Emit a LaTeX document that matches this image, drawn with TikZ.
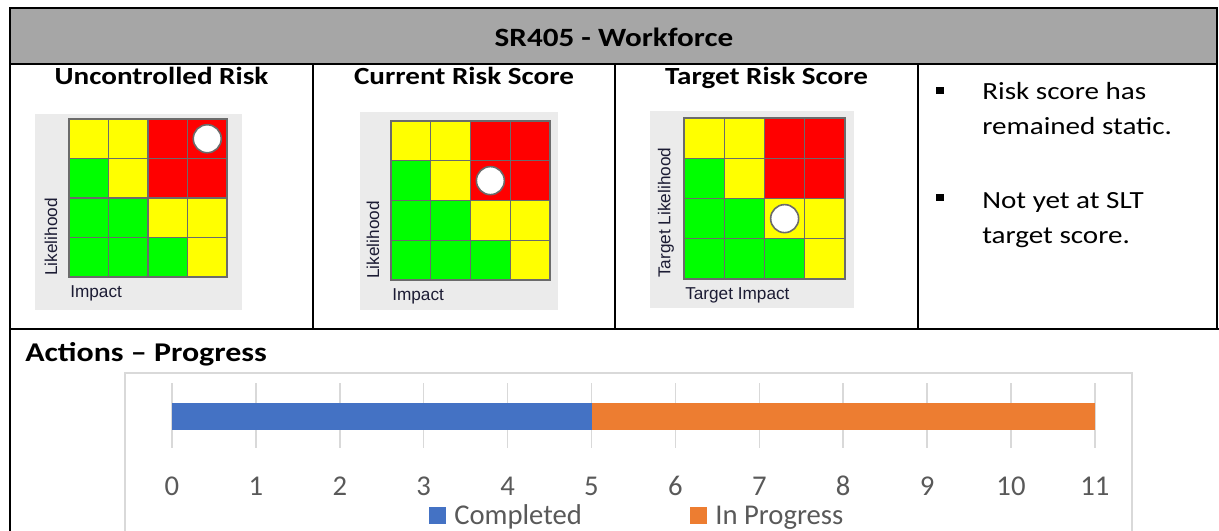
\documentclass[tikz,border=0pt]{standalone}
\usepackage{fontspec}
\setmainfont{Carlito}
\newfontfamily\axisfont{Liberation Sans}
\usetikzlibrary{calc}

\definecolor{hdrgray}{HTML}{A6A6A6}
\definecolor{hmY}{HTML}{FFFF00}
\definecolor{hmR}{HTML}{FF0000}
\definecolor{hmG}{HTML}{00FF00}
\definecolor{hmline}{HTML}{6B6B6B}
\definecolor{hmback}{HTML}{EBEBEB}
\definecolor{hmtext}{HTML}{1C1C34}
\definecolor{chartgrid}{HTML}{D9D9D9}
\definecolor{charttext}{HTML}{595959}
\definecolor{donebar}{HTML}{4472C4}
\definecolor{progbar}{HTML}{ED7D31}

\newcommand{\wide}[1]{\scalebox{1.18}[1]{#1}}

\begin{document}
\begin{tikzpicture}[x=0.75pt, y=-0.75pt,
  frame/.style={black, line width=1.5pt},
  subtitle/.style={anchor=base, inner sep=0pt, font=\fontsize{18.5}{22}\selectfont\bfseries},
  pointtext/.style={anchor=base west, inner sep=0pt, font=\fontsize{18.5}{22}\selectfont},
  hmlabel/.style={inner sep=0pt, text=hmtext, font=\axisfont\fontsize{12.9}{14}\selectfont},
  dot/.style={circle, fill=white, draw=hmline, line width=1.2pt, minimum size=21pt, inner sep=0pt},
  ticklabel/.style={anchor=base, inner sep=0pt, text=charttext, font=\fontsize{21.5}{24}\selectfont},
  legendlabel/.style={anchor=base west, inner sep=0pt, text=charttext, font=\fontsize{21.5}{24}\selectfont}]
\useasboundingbox (0,0) rectangle (1219,531);

% table frame
\fill[hdrgray] (10,8) rectangle (1217,64);
\draw[frame] (10,531) -- (10,8) -- (1217,8) -- (1217,329);
\draw[frame] (10,64) -- (1217,64);
\draw[frame] (10,329) -- (1219,329);
\foreach \x in {313,615,918} \draw[frame] (\x,64) -- (\x,329);

\node[anchor=base, inner sep=0pt, font=\fontsize{19.8}{24}\selectfont\bfseries] (title) at (614,47) {\wide{SR405 - Workforce}};

\foreach \x/\t [count=\i] in {161.5/Uncontrolled Risk, 464/Current Risk Score, 766.5/Target Risk Score}
  \node[subtitle] (sub\i) at (\x,85) {\wide{\t}};

% heat maps
\foreach \gx/\gy/\cs/\bx/\by/\bX/\bY/\cc/\cr/\ylab/\xlab [count=\m] in {
    69/119/39.5/35/114/242/310/4/1/Likelihood/Impact,
    391/121/39.75/360/112/558/310/3/2/Likelihood/Impact,
    684/118/40.25/650/111/854/308/3/3/Target Likelihood/Target Impact} {
  \fill[hmback] (\bx,\by) rectangle (\bX,\bY);
  \foreach \row [count=\r] in {{hmY,hmY,hmR,hmR},{hmG,hmY,hmR,hmR},{hmG,hmG,hmY,hmY},{hmG,hmG,hmG,hmY}}
    \foreach \c [count=\k] in \row
      \filldraw[fill=\c, draw=hmline, line width=1.1pt] ({\gx+(\k-1)*\cs},{\gy+(\r-1)*\cs}) rectangle ++(\cs,\cs);
  \node[dot] (dot\m) at ({\gx+(\cc-0.5)*\cs},{\gy+(\cr-0.5)*\cs}) {};
  \node[hmlabel, rotate=90, anchor=west] (lik\m) at ({\gx-18},{\gy+4*\cs-1}) {\ylab};
  \node[hmlabel, anchor=west] (imp\m) at ({\gx+1},{\gy+4*\cs+16}) {\xlab};
}

% comments column
\foreach \y [count=\i] in {90.5,197.5}
  \node[fill=black, minimum size=5.5pt, inner sep=0pt] (bul\i) at (940,\y) {};
\node[pointtext] (pt1) at (982,100) {\wide{Risk score has}};
\node[pointtext] (pt2) at (982,135) {\wide{remained static.}};
\node[pointtext] (pt3) at (982,208) {\wide{Not yet at SLT}};
\node[pointtext] (pt4) at (982,243) {\wide{target score.}};

% actions chart
\node[anchor=base west, inner sep=0pt, font=\fontsize{20.3}{24}\selectfont\bfseries] (actions) at (25,361) {\wide{Actions -- Progress}};
\draw[chartgrid, line width=1.1pt] (125,531) -- (125,373) -- (1132,373) -- (1132,531);
\foreach \v in {0,...,11} {
  \draw[chartgrid, line width=1.1pt] ({172+83.9*\v},383) -- ++(0,65);
  \node[ticklabel] (tick\v) at ({172+83.9*\v},495) {\v};
}
\fill[donebar] (172,403) rectangle ({172+83.9*5},430);
\fill[progbar] ({172+83.9*5},403) rectangle ({172+83.9*11},430);

\fill[donebar] (429,507) rectangle (446,524);
\node[legendlabel] (leg1) at (454,524) {Completed};
\fill[progbar] (690,507) rectangle (707,524);
\node[legendlabel] (leg2) at (715,524) {In Progress};

\end{tikzpicture}
\end{document}
